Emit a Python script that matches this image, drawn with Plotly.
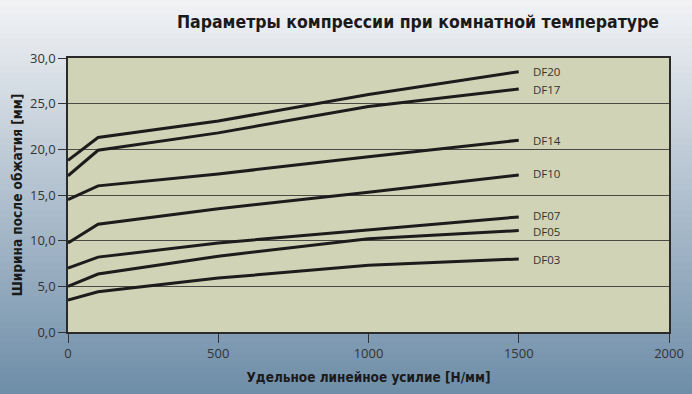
import plotly.graph_objects as go

# ---- data ----
x_force = [0, 100, 500, 1000, 1500]
series_names = ["DF20", "DF17", "DF14", "DF10", "DF07", "DF05", "DF03"]
df20 = [18.8, 21.3, 23.1, 26.0, 28.5]
df17 = [17.1, 19.9, 21.8, 24.7, 26.6]
df14 = [14.5, 16.0, 17.3, 19.2, 21.0]
df10 = [9.75, 11.8, 13.5, 15.3, 17.2]
df07 = [7.0, 8.2, 9.75, 11.2, 12.6]
df05 = [5.0, 6.35, 8.3, 10.2, 11.1]
df03 = [3.5, 4.4, 5.9, 7.3, 8.0]
all_series = [df20, df17, df14, df10, df07, df05, df03]
label_y = [28.5, 26.6, 21.0, 17.3, 12.75, 11.0, 7.9]

y_ticks = [0, 5, 10, 15, 20, 25, 30]
y_ticktext = ["0,0", "5,0", "10,0", "15,0", "20,0", "25,0", "30,0"]
x_ticks = [0, 500, 1000, 1500, 2000]
label_x = 1540

title = "Параметры компрессии при комнатной температуре"
x_title = "Удельное линейное усилие [Н/мм]"
y_title = "Ширина после обжатия [мм]"

TFONT = "DejaVu Sans Condensed, sans-serif"
NFONT = "Open Sans, Noto Sans, sans-serif"

fig = go.Figure()
for name, vals, ly in zip(series_names, all_series, label_y):
    fig.add_trace(go.Scatter(x=x_force, y=vals, mode="lines", name=name,
                             line=dict(color="#1c1c1c", width=3),
                             showlegend=False, hoverinfo="x+y+name"))
    fig.add_annotation(x=label_x, y=ly, text=name, showarrow=False,
                       xanchor="left", yanchor="middle", xref="x", yref="y",
                       font=dict(family=NFONT, size=11.5, color="#333333"))

# background gradient (paper)
W, H = 692, 394
ml, mr, mt, mb = 68, 23, 58, 62
pw, ph = W - ml - mr, H - mt - mb
top = (242, 243, 245)
bot = (110, 141, 168)
n = 60
shapes = []
for i in range(n):
    y0px = H * i / n
    y1px = H * (i + 1) / n + 1
    t = (i + 0.5) / n
    c = tuple(int(round(top[k] + (bot[k] - top[k]) * t)) for k in range(3))
    py0 = (H - mb - y1px) / ph
    py1 = (H - mb - y0px) / ph
    shapes.append(dict(type="rect", xref="paper", yref="paper",
                       x0=-ml / pw - 0.01, x1=1 + mr / pw + 0.01, y0=py0, y1=py1,
                       fillcolor="rgb(%d,%d,%d)" % c, line=dict(width=0), layer="below"))
shapes.append(dict(type="rect", xref="x", yref="y", x0=0, x1=2000, y0=0, y1=30,
                   fillcolor="#d0d3b5", line=dict(width=0), layer="below"))

fig.update_layout(
    width=W, height=H,
    margin=dict(l=ml, r=mr, t=mt, b=mb, autoexpand=False),
    paper_bgcolor="#b0bcc8",
    plot_bgcolor="rgba(0,0,0,0)",
    shapes=shapes,
    title=dict(text=title, x=0.604, xref="container", xanchor="center",
               y=1 - 22 / H, yref="container", yanchor="middle",
               font=dict(family=TFONT, size=17.5, color="#1a1a1a", weight="bold")),
    font=dict(family=NFONT, color="#333333"),
)
fig.update_xaxes(range=[0, 2000], tickvals=x_ticks, ticks="outside", ticklen=9,
                 tickcolor="#333333", showgrid=False, zeroline=False, automargin=False,
                 showline=True, mirror=True, linecolor="#2a2a2a", linewidth=1.5,
                 tickfont=dict(size=13, color="#333333"),
                 title=dict(text=x_title, standoff=11,
                            font=dict(family=TFONT, size=13.5, color="#1a1a1a", weight="bold")))
fig.update_yaxes(range=[0, 30], tickvals=y_ticks, ticktext=y_ticktext, ticks="outside", ticklen=8,
                 tickcolor="#333333", showgrid=True, gridcolor="#4a4a44", gridwidth=1,
                 zeroline=False, automargin=False, showline=True, mirror=True,
                 linecolor="#2a2a2a", linewidth=1.5,
                 tickfont=dict(size=13, color="#333333"),
                 title=dict(text=y_title, standoff=4,
                            font=dict(family=TFONT, size=13.5, color="#1a1a1a", weight="bold")))

fig.write_html("out.html", config={"displayModeBar": False},
               post_script="document.body.style.margin='0';document.body.style.padding='0';")
